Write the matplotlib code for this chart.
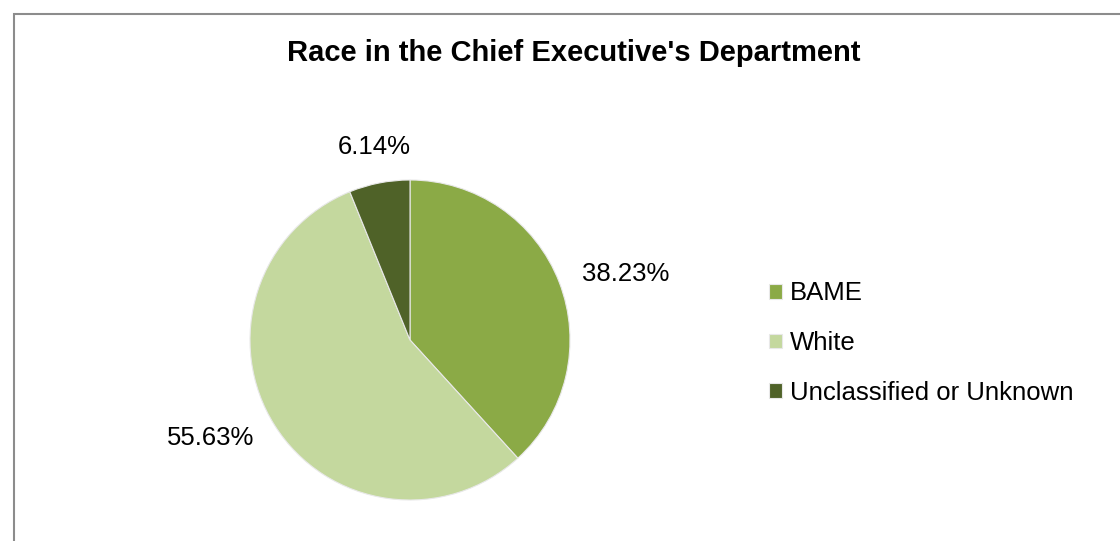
import numpy as np
import matplotlib
matplotlib.use("Agg")
import matplotlib.pyplot as plt
from matplotlib.patches import Rectangle

plt.rcParams['font.family'] = ['Liberation Sans', 'DejaVu Sans']

categories = ["BAME", "White", "Unclassified or Unknown"]
shares = [38.23, 55.63, 6.14]
colors = ["#8BAA46", "#C4D89E", "#4F6228"]

W, H = 1120, 541
fig = plt.figure(figsize=(W / 100, H / 100), dpi=100)

# chart frame, runs off the right and bottom edges
fig.patches.append(Rectangle((14 / W, -0.05), 1.1, 1 - 14 / H + 0.05,
                             transform=fig.transFigure, fill=False,
                             edgecolor="#8c8c8c", linewidth=1.5))

fig.text(574 / W, 1 - 53 / H, "Race in the Chief Executive's Department",
         ha="center", va="center", fontsize=21, fontweight="bold")

cx, cy, r = 410, 340, 160
ax = fig.add_axes([(cx - r) / W, (H - cy - r) / H, 2 * r / W, 2 * r / H])
wedges, _ = ax.pie(shares, colors=colors, startangle=90, counterclock=False,
                   wedgeprops=dict(edgecolor="#e8e8e8", linewidth=0.8))
ax.set_xlim(-1, 1)
ax.set_ylim(-1, 1)
ax.set_aspect("equal")
ax.axis("off")

# outside-end labels: the nearest edge of the text sits just past the rim
for w, v in zip(wedges, shares):
    ang = np.deg2rad((w.theta1 + w.theta2) / 2)
    c, s = np.cos(ang), np.sin(ang)
    if abs(c) < 0.35:
        ha, va = "center", ("bottom" if s > 0 else "top")
    else:
        ha, va = ("left" if c > 0 else "right"), "center"
    ax.text(1.15 * c, 1.15 * s, f"{v:.2f}%", ha=ha, va=va,
            fontsize=18.5, clip_on=False)

fig.legend(wedges, categories, loc="center left",
           bbox_to_anchor=(759 / W, 1 - 343 / H), frameon=False,
           fontsize=18.5, handlelength=0.5, handleheight=0.5,
           handletextpad=0.3, labelspacing=1.0, borderaxespad=0)

fig.savefig("out.png", dpi=100)
